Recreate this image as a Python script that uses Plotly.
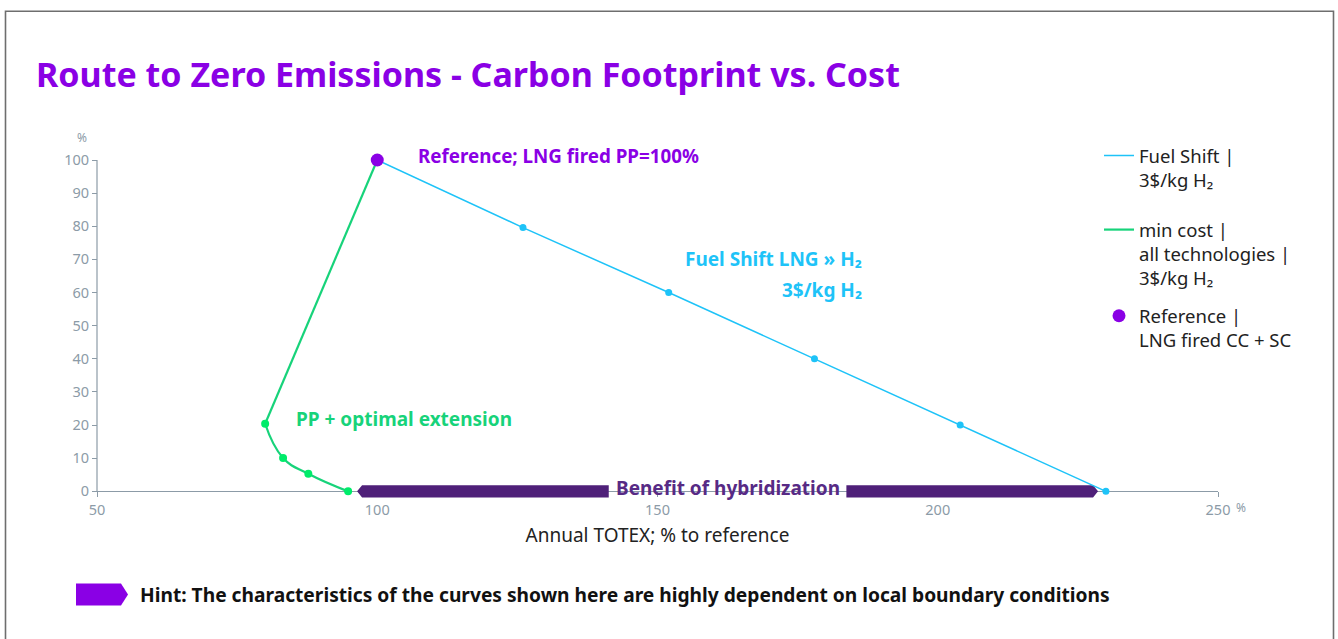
import plotly.graph_objects as go

# ---------------- data ----------------
fuel_x = [100, 126, 152, 178, 204, 230]
fuel_y = [100, 79.6, 60, 40, 20, 0]

mincost_x = [100, 80, 83.2, 87.7, 94.8]
mincost_y = [100, 20.4, 10.1, 5.3, 0]

ref_x = [100]
ref_y = [100]

benefit_range = [96.4, 228.6]   # x extent of "Benefit of hybridization" arrow
benefit_gap = [141.3, 183.7]    # gap in the arrow holding the label
benefit_label_x = 162.5

x_ticks = [50, 100, 150, 200, 250]
y_ticks = [0, 10, 20, 30, 40, 50, 60, 70, 80, 90, 100]

# ---------------- layout constants ----------------
FW, FH = 1338, 639
SL, SR, ST, SB = 97, 1218, 160, 497.6   # plot area in screen pixels
ML, MT = SL, ST
MR = FW - SR
MB = FH - SB
PW, PH = SR - SL, SB - ST
YMIN, YMAX = -2, 100
XMIN, XMAX = 50, 250

def pxx(px):
    return (px - SL) / PW

def pxy(py):
    return (SB - py) / PH

FONT = "Noto Sans"
PURPLE = "#8a00e5"
DARKPURPLE = "#4f2079"
BLUE = "#1ec3f8"
GREEN_LINE = "#17d37a"
GREEN_MK = "#00ec6a"
GRAY = "#8c9ba7"

fig = go.Figure()

# benefit arrow (two filled polygons built from benefit_range / benefit_gap)
hh = 6 / (PH / (YMAX - YMIN))      # half height in data units (6 px)
tip = 5 / (PW / (XMAX - XMIN))     # arrow tip length in data units (5 px)
b0, b1 = benefit_range
g0, g1 = benefit_gap
fig.add_trace(go.Scatter(
    x=[b0, b0 + tip, g0, g0, b0 + tip, b0, None,
       g1, b1 - tip, b1, b1 - tip, g1, g1],
    y=[0, hh, hh, -hh, -hh, 0, None,
       hh, hh, 0, -hh, -hh, hh],
    mode="lines", fill="toself", fillcolor=DARKPURPLE,
    line=dict(width=0, color=DARKPURPLE),
    showlegend=False, hoverinfo="skip"))

# Fuel shift line
fig.add_trace(go.Scatter(
    x=fuel_x, y=fuel_y, mode="lines",
    line=dict(color=BLUE, width=1.5),
    name="Fuel Shift |<br>3$/kg H₂", legend="legend"))
fig.add_trace(go.Scatter(
    x=fuel_x[1:], y=fuel_y[1:], mode="markers",
    marker=dict(color=BLUE, size=7),
    showlegend=False, cliponaxis=False))

# min cost: straight top segment + smooth lower part
fig.add_trace(go.Scatter(
    x=mincost_x[:2], y=mincost_y[:2], mode="lines",
    line=dict(color=GREEN_LINE, width=2.2),
    name="min cost |<br>all technologies |<br>3$/kg H₂",
    legendgroup="mc", legend="legend2", legendrank=1))
fig.add_trace(go.Scatter(
    x=mincost_x[1:], y=mincost_y[1:], mode="lines",
    line=dict(color=GREEN_LINE, width=2.2, shape="spline", smoothing=1.3),
    legendgroup="mc", showlegend=False, legend="legend2"))
fig.add_trace(go.Scatter(
    x=mincost_x[1:], y=mincost_y[1:], mode="markers",
    marker=dict(color=GREEN_MK, size=8),
    showlegend=False, cliponaxis=False, legendgroup="mc", legend="legend2"))

# reference
fig.add_trace(go.Scatter(
    x=ref_x, y=ref_y, mode="markers",
    marker=dict(color=PURPLE, size=13),
    name="Reference |<br>LNG fired CC + SC", cliponaxis=False,
    legendgroup="ref", legend="legend2", legendrank=2))

annotations = [
    dict(x=107, y=100, yshift=4, xref="x", yref="y", text="Reference; LNG fired PP=100%",
         showarrow=False, xanchor="left", yanchor="middle",
         font=dict(family=FONT, size=18.8, color=PURPLE, weight="bold")),
    dict(x=186.8, y=70.2, xref="x", yref="y", text="Fuel Shift LNG » H₂",
         showarrow=False, xanchor="right", yanchor="middle",
         font=dict(family=FONT, size=19, color=BLUE, weight="bold")),
    dict(x=186.8, y=60.7, xref="x", yref="y", text="3$/kg H₂",
         showarrow=False, xanchor="right", yanchor="middle",
         font=dict(family=FONT, size=19, color=BLUE, weight="bold")),
    dict(x=85.2, y=21.8, xref="x", yref="y", text="PP + optimal extension",
         showarrow=False, xanchor="left", yanchor="middle",
         font=dict(family=FONT, size=19, color=GREEN_LINE, weight="bold")),
    dict(x=benefit_label_x, y=0.9, xref="x", yref="y", text="Benefit of hybridization",
         showarrow=False, xanchor="center", yanchor="middle",
         font=dict(family=FONT, size=19, color="#572a85", weight="bold")),
    dict(x=pxx(82), y=pxy(138), xref="paper", yref="paper", text="%",
         showarrow=False, xanchor="center", yanchor="middle",
         font=dict(family=FONT, size=12, color=GRAY)),
    dict(x=pxx(1241), y=pxy(507), xref="paper", yref="paper", text="%",
         showarrow=False, xanchor="center", yanchor="middle",
         font=dict(family=FONT, size=12, color=GRAY)),
    dict(x=pxx(34), y=pxy(74), xref="paper", yref="paper",
         text="Route to Zero Emissions - Carbon Footprint vs. Cost",
         showarrow=False, xanchor="left", yanchor="middle",
         font=dict(family=FONT, size=34, color=PURPLE, weight="bold")),
    dict(x=pxx(138), y=pxy(594), xref="paper", yref="paper",
         text="Hint: The characteristics of the curves shown here are highly dependent on local boundary conditions",
         showarrow=False, xanchor="left", yanchor="middle",
         font=dict(family=FONT, size=19.2, color="#111111", weight="bold")),
]

shapes = [
    # y axis line from 0 to 100
    dict(type="line", xref="paper", yref="y", x0=0, x1=0, y0=0, y1=YMAX,
         line=dict(color=GRAY, width=1.2)),
    # hint arrow
    dict(type="path", xref="paper", yref="paper",
         path=("M {a},{b} L {c},{b} L {d},{e} L {c},{f} L {a},{f} Z").format(
             a=pxx(76), b=pxy(583), c=pxx(121), d=pxx(128), e=pxy(594), f=pxy(605)),
         fillcolor=PURPLE, line=dict(width=0)),
    # outer frame
    dict(type="path", xref="paper", yref="paper",
         path="M {a},{b} L {a},{c} L {d},{c} L {d},{b}".format(
             a=pxx(5.5), b=pxy(660), c=pxy(11.5), d=pxx(1333.5)),
         line=dict(color="#6e6e6e", width=1.6)),
]

legend_font = dict(family=FONT, size=18.5, color="#222222")

fig.update_layout(
    width=FW, height=FH,
    margin=dict(l=ML, r=MR, t=MT, b=MB),
    paper_bgcolor="white", plot_bgcolor="white",
    font=dict(family=FONT, color="#222222"),
    showlegend=True,
    legend=dict(x=pxx(1099), y=pxy(137), xanchor="left", yanchor="top",
                xref="paper", yref="paper", valign="top",
                font=legend_font, itemwidth=30, bgcolor="rgba(0,0,0,0)"),
    legend2=dict(x=pxx(1099), y=pxy(211), xanchor="left", yanchor="top",
                 xref="paper", yref="paper", valign="top",
                 font=legend_font, tracegroupgap=11, itemwidth=30,
                 bgcolor="rgba(0,0,0,0)"),
    xaxis=dict(range=[XMIN, XMAX], tickvals=x_ticks, showgrid=False, zeroline=False,
               showline=True, linecolor=GRAY, linewidth=1.2, layer="below traces",
               ticks="outside", ticklen=5, tickcolor=GRAY,
               tickfont=dict(family=FONT, size=14.5, color=GRAY),
               anchor="free", position=(0 - YMIN) / (YMAX - YMIN),
               title=dict(text="Annual TOTEX; % to reference", standoff=10,
                          font=dict(family=FONT, size=19, color="#222222"))),
    yaxis=dict(range=[YMIN, YMAX], tickvals=y_ticks, showgrid=False, zeroline=False,
               showline=False, ticks="outside", ticklen=5, tickcolor=GRAY,
               tickfont=dict(family=FONT, size=14.5, color=GRAY),
               anchor="free", position=0),
    annotations=annotations,
    shapes=shapes,
)

fig.write_html("out.html", config={"displayModeBar": False},
               post_script="document.body.style.margin='0';")
